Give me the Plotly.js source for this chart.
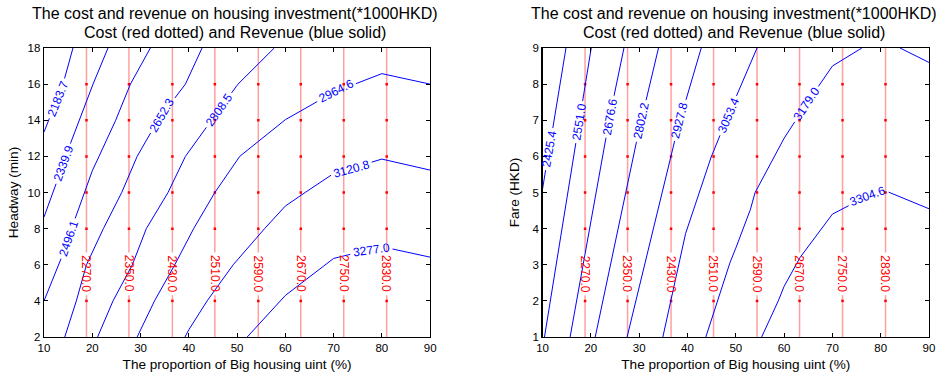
<!DOCTYPE html>
<html><head><meta charset="utf-8">
<script src="https://cdn.plot.ly/plotly-3.0.1.min.js"></script>
<style>html,body{margin:0;padding:0;background:#fff}#chart{width:938px;height:378px}</style>
</head><body><div id="chart"></div>
<script>
// ---------------- data ----------------
const xTicks = [10,20,30,40,50,60,70,80,90];
const yTicksL = [2,4,6,8,10,12,14,16,18];
const yTicksR = [1,2,3,4,5,6,7,8,9];
const titleLines = ['The cost and revenue on housing investment(*1000HKD)', 'Cost (red dotted) and Revenue (blue solid)'];
const xTitle = 'The proportion of Big housing uint (%)';
const yTitleL = 'Headway (min)';
const yTitleR = 'Fare (HKD)';

// cost contours (vertical, same in both panels)
const costLevels = [2270,2350,2430,2510,2590,2670,2750,2830];
const costX = [18.8,27.6,36.6,45.4,54.4,63.2,72.1,81.0];

// revenue contour levels
const revLevelsL = [2183.7,2339.9,2496.1,2652.3,2808.5,2964.6,3120.8,3277.0];
const revLevelsR = [2425.4,2551.0,2676.6,2802.2,2927.8,3053.4,3179.0,3304.6];

// left panel: revenue contours (x = proportion, y = headway)
const revL1x = [10, 10.97, 13.94, 16.0];
const revL1y = [13.35, 14, 16, 18];
const revL2x = [10, 11.87, 14.5, 17.25, 20.16, 23.26];
const revL2y = [8.64, 10, 12, 14, 16, 18];
const revL3x = [10, 13.1, 15.7, 18.4, 20, 21.4, 24.85, 27.9, 32.04];
const revL3y = [4.0, 6, 8, 10, 11.2, 12, 14, 16, 18];
const revL4x = [14.3, 16.7, 18.8, 22.3, 26.1, 29.3, 33.6, 39.3, 42.75];
const revL4y = [2, 4, 6, 8, 10, 12, 14, 16, 18];
const revL5x = [21.1, 24.3, 28.3, 31.2, 35.7, 39.3, 44.7, 50.2, 57.7];
const revL5y = [2, 4, 6, 8, 10, 12, 14, 16, 18];
const revL6x = [29.3, 32.9, 37.1, 41.0, 45.4, 50.55, 60, 70, 80, 90];
const revL6y = [2, 4, 6, 8, 10, 12, 14.03, 15.55, 16.58, 16.0];
const revL7x = [39.2, 40, 43.8, 49.2, 55.7, 60, 64.1, 70, 80, 90];
const revL7y = [2, 2.4, 4, 6, 8, 9.25, 10, 11.05, 11.85, 11.24];
const revL8x = [52.1, 60, 70, 80, 90];
const revL8y = [2, 4.3, 6.35, 7.0, 6.42];

// right panel: revenue contours (x = proportion, y = fare)
const revR1x = [10, 11.1, 12.4, 13.6, 14.85];
const revR1y = [5.1, 6, 7, 8, 9];
const revR2x = [10.4, 20.07];
const revR2y = [1, 9];
const revR3x = [15.7, 19.8, 23.9, 26.85];
const revR3y = [1, 4, 7.1, 9];
const revR4x = [20.9, 25.6, 30, 34.0];
const revR4y = [1, 4, 6.75, 9];
const revR5x = [27.5, 32.9, 38.4, 40, 42.85];
const revR5y = [1, 4, 7, 7.7, 9];
const revR6x = [34.9, 39.6, 44.9, 48.4, 54.4];
const revR6y = [1, 3.86, 5.98, 7.13, 9];
const revR7x = [43.8, 46.2, 48.8, 50, 53.0, 54.0, 60, 64.6, 70, 76.1];
const revR7y = [1, 2, 3.06, 3.46, 4.52, 5.0, 6.5, 7.45, 8.5, 9];
const revR7bx = [84.0, 90];
const revR7by = [9, 8.6];
const revR8x = [55.35, 58.8, 60, 63.3, 70, 80, 90];
const revR8y = [1, 2, 2.4, 3.2, 4.4, 5.1, 4.55];

// ---------------- layout geometry / label placement ----------------
const W = 938, H = 378;
const M = {l: 44.3, r: 9, t: 48.3, b: 40.7};
const PW = W - M.l - M.r, PH = H - M.t - M.b;
const domL = [0, 386 / PW], domR = [(542.7 - M.l) / PW, 1];
const rangeX = [10, 90], rangeYL = [2, 18], rangeYR = [1, 9];
const sxL = (domL[1]-domL[0]) * PW / (rangeX[1]-rangeX[0]);
const sxR = (domR[1]-domR[0]) * PW / (rangeX[1]-rangeX[0]);
const syL = PH / (rangeYL[1]-rangeYL[0]);
const syR = PH / (rangeYR[1]-rangeYR[0]);

const FONT = 'Liberation Sans, Arial, Helvetica, sans-serif';
const BLUE = '#0000ff', RED = '#ff0000', PINK = 'rgb(255,160,160)';
const labelFont = 12;

// label placements: [x, y, angle]
const labPosL = [[12.8,15.2,-68],[13.95,11.6,-70],[15.0,7.45,-71],[34.4,14.3,-60],
                 [46.3,14.55,-55],[70.5,15.6,-27],[73.7,11.3,-15],[77.8,6.8,-8]];
const labPosR = [[11.4,6.2,-80],[17.6,6.95,-81],[23.9,7.1,-80],[30.4,6.98,-78],
                 [38.4,7.0,-76],[48.4,7.13,-67],[64.6,7.45,-56],[77.3,4.9,-20]];
const costLabYL = 5.5, costLabYR = 2.75;

// break a polyline around a label centre (radius r in px)
function breakLine(xs, ys, cx, cy, r, sx, sy) {
  const ox = [], oy = [];
  const P = xs.map((x, i) => [x * sx, ys[i] * sy]);
  const C = [cx * sx, cy * sy];
  const ins = p => (p[0]-C[0])**2 + (p[1]-C[1])**2 < r*r;
  const push = p => { if (p === null) { ox.push(null); oy.push(null); } else { ox.push(p[0]/sx); oy.push(p[1]/sy); } };
  let inside = ins(P[0]);
  if (!inside) push(P[0]);
  for (let i = 0; i < P.length - 1; i++) {
    const A = P[i], B = P[i+1];
    const dx = B[0]-A[0], dy = B[1]-A[1];
    const fx = A[0]-C[0], fy = A[1]-C[1];
    const a = dx*dx + dy*dy, b = 2*(fx*dx + fy*dy), c = fx*fx + fy*fy - r*r;
    const disc = b*b - 4*a*c;
    const ts = [];
    if (disc > 0 && a > 0) {
      const s = Math.sqrt(disc);
      [(-b - s)/(2*a), (-b + s)/(2*a)].forEach(t => { if (t > 0 && t < 1) ts.push(t); });
    }
    ts.forEach(t => {
      const Q = [A[0] + t*dx, A[1] + t*dy];
      if (!inside) { push(Q); push(null); inside = true; }
      else { push(Q); inside = false; }
    });
    inside = ins(B);
    if (!inside) push(B);
  }
  return [ox, oy];
}

function labelText(v) { return v.toFixed(1); }
function labelRadius(txt) { return (txt.length - 1) * 0.556 * labelFont / 2 + 0.278 * labelFont / 2 + 3; }

const traces = [];
const annotations = [];

function addPanel(revX, revY, levels, labPos, extra, xa, ya, sx, sy, yTicks, costLabY, yrange) {
  const xref = xa.replace('axis', ''), yref = ya.replace('axis', '');
  // cost lines
  costX.forEach((cx, i) => {
    const txt = labelText(costLevels[i]);
    const r = labelRadius(txt);
    const [bx, by] = breakLine([cx, cx], [yrange[0], yrange[1]], cx, costLabY, r, sx, sy);
    traces.push({type: 'scatter', mode: 'lines', x: bx, y: by, xaxis: xref, yaxis: yref,
      line: {color: PINK, width: 1.5}, hoverinfo: 'skip', showlegend: false, connectgaps: false});
    const dotsY = yTicks.filter(v => v > yrange[0] && v < yrange[1] && Math.abs(v - costLabY) * sy > r);
    traces.push({type: 'scatter', mode: 'markers', x: dotsY.map(() => cx), y: dotsY, xaxis: xref, yaxis: yref,
      marker: {color: RED, size: 2.5, symbol: 'square'}, hoverinfo: 'skip', showlegend: false});
    annotations.push({xref: xref, yref: yref, x: cx, y: costLabY, text: txt, showarrow: false, textangle: 90,
      xanchor: 'center', yanchor: 'middle', font: {family: FONT, size: labelFont, color: RED}});
  });
  // revenue lines
  revX.forEach((xs, i) => {
    const txt = labelText(levels[i]);
    const [lx, ly, ang] = labPos[i];
    const [bx, by] = breakLine(xs, revY[i], lx, ly, labelRadius(txt), sx, sy);
    traces.push({type: 'scatter', mode: 'lines', x: bx, y: by, xaxis: xref, yaxis: yref,
      line: {color: BLUE, width: 1}, hoverinfo: 'skip', showlegend: false, connectgaps: false});
    annotations.push({xref: xref, yref: yref, x: lx, y: ly, text: txt, showarrow: false, textangle: ang,
      xanchor: 'center', yanchor: 'middle', font: {family: FONT, size: labelFont, color: BLUE}});
  });
  extra.forEach(([xs, ys]) => {
    traces.push({type: 'scatter', mode: 'lines', x: xs, y: ys, xaxis: xref, yaxis: yref,
      line: {color: BLUE, width: 1}, hoverinfo: 'skip', showlegend: false});
  });
}

addPanel([revL1x,revL2x,revL3x,revL4x,revL5x,revL6x,revL7x,revL8x],
         [revL1y,revL2y,revL3y,revL4y,revL5y,revL6y,revL7y,revL8y],
         revLevelsL, labPosL, [], 'xaxis', 'yaxis', sxL, syL, yTicksL, costLabYL, rangeYL);
addPanel([revR1x,revR2x,revR3x,revR4x,revR5x,revR6x,revR7x,revR8x],
         [revR1y,revR2y,revR3y,revR4y,revR5y,revR6y,revR7y,revR8y],
         revLevelsR, labPosR, [[revR7bx, revR7by]], 'xaxis2', 'yaxis2', sxR, syR, yTicksR, costLabYR, rangeYR);

// titles
const titleCenters = [(235.5 - M.l) / PW, (734 - M.l) / PW];
titleCenters.forEach(cx => {
  annotations.push({xref: 'paper', yref: 'paper', x: cx, y: 1 + (M.t - 14.2) / PH, text: titleLines[0], showarrow: false,
    xanchor: 'center', yanchor: 'middle', font: {family: FONT, size: 16, color: '#000'}});
  annotations.push({xref: 'paper', yref: 'paper', x: cx, y: 1 + (M.t - 32.5) / PH, text: titleLines[1], showarrow: false,
    xanchor: 'center', yanchor: 'middle', font: {family: FONT, size: 16, color: '#000'}});
});

function axisStyle(extra) {
  return Object.assign({
    showgrid: false, zeroline: false, showline: true, linecolor: '#000', linewidth: 1.3, mirror: 'ticks',
    ticks: 'inside', ticklen: 4, tickwidth: 1, tickcolor: '#000',
    tickfont: {family: FONT, size: 11.5, color: '#000'}, fixedrange: true
  }, extra);
}

const layout = {
  width: W, height: H, margin: M, paper_bgcolor: '#fff', plot_bgcolor: '#fff', showlegend: false,
  font: {family: FONT, color: '#000'},
  xaxis: axisStyle({domain: domL, range: rangeX, tickvals: xTicks, anchor: 'y',
    title: {text: xTitle, font: {family: FONT, size: 13.6, color: '#000'}, standoff: 6}}),
  yaxis: axisStyle({domain: [0, 1], range: rangeYL, tickvals: yTicksL, anchor: 'x',
    title: {text: yTitleL, font: {family: FONT, size: 13.6, color: '#000'}, standoff: 5}}),
  xaxis2: axisStyle({domain: domR, range: rangeX, tickvals: xTicks, anchor: 'y2',
    title: {text: xTitle, font: {family: FONT, size: 13.6, color: '#000'}, standoff: 6}}),
  yaxis2: axisStyle({domain: [0, 1], range: rangeYR, tickvals: yTicksR, anchor: 'x2',
    title: {text: yTitleR, font: {family: FONT, size: 13.6, color: '#000'}, standoff: 9}}),
  annotations: annotations
};

Plotly.newPlot('chart', traces, layout, {displayModeBar: false, staticPlot: true});
</script></body></html>
